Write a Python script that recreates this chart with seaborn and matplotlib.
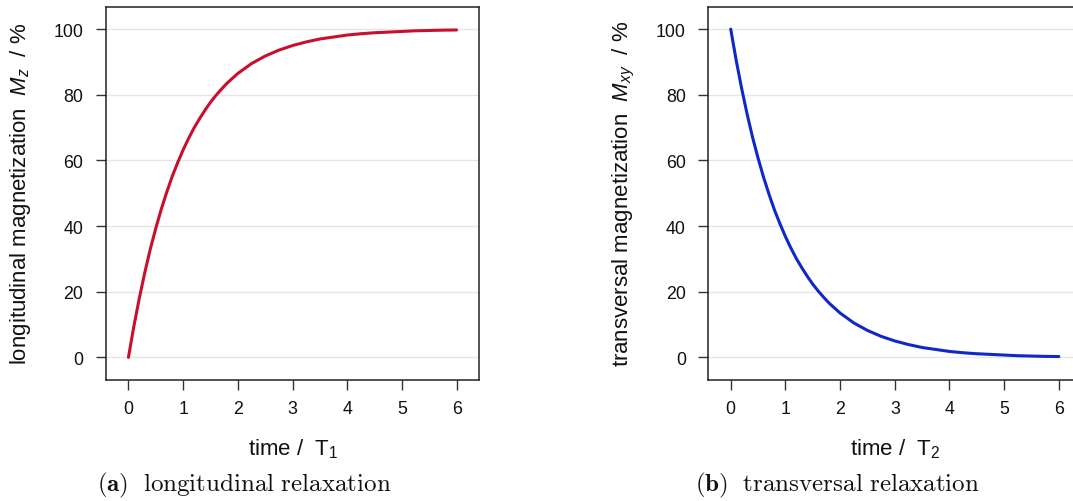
import numpy as np
import pandas as pd
import matplotlib
matplotlib.use("Agg")
import matplotlib.pyplot as plt
import seaborn as sns

# ---- data ----
time_pts = [0.0, 0.1, 0.2, 0.3, 0.4, 0.5, 0.6, 0.7, 0.8, 0.9, 1.0, 1.1, 1.2, 1.3,
            1.4, 1.5, 1.6, 1.7, 1.8, 1.9, 2.0, 2.25, 2.5, 2.75, 3.0, 3.25, 3.5,
            3.75, 4.0, 4.25, 4.5, 4.75, 5.0, 5.25, 5.5, 5.75, 6.0]
mz_values = [0.0, 9.5, 18.1, 25.9, 33.0, 39.3, 45.1, 50.3, 55.1, 59.3, 63.2, 66.7,
             69.9, 72.7, 75.3, 77.7, 79.8, 81.7, 83.5, 85.0, 86.5, 89.5, 91.8,
             93.6, 95.0, 96.1, 97.0, 97.6, 98.2, 98.6, 98.9, 99.1, 99.3, 99.5,
             99.6, 99.7, 99.75]
mxy_values = [100.0, 90.5, 81.9, 74.1, 67.0, 60.7, 54.9, 49.7, 44.9, 40.7, 36.8,
              33.3, 30.1, 27.3, 24.7, 22.3, 20.2, 18.3, 16.5, 15.0, 13.5, 10.5,
              8.2, 6.4, 5.0, 3.9, 3.0, 2.4, 1.8, 1.4, 1.1, 0.9, 0.7, 0.5, 0.4,
              0.3, 0.25]
x_ticks = [0, 1, 2, 3, 4, 5, 6]
y_ticks = [0, 20, 40, 60, 80, 100]

ylabels = [r"longitudinal magnetization  $M_z$  / %",
           r"transversal magnetization  $M_{xy}$  / %"]
xlabels = [r"time /  $\mathregular{T_1}$", r"time /  $\mathregular{T_2}$"]
captions = [r"$\mathbf{(a)}\ \ \mathrm{longitudinal\ relaxation}$",
            r"$\mathbf{(b)}\ \ \mathrm{transversal\ relaxation}$"]
colors = ["#C8102E", "#1028C8"]

sns.set_style("white")
plt.rcParams["font.family"] = ["Liberation Sans", "DejaVu Sans"]
plt.rcParams["mathtext.fontset"] = "custom"
plt.rcParams["mathtext.rm"] = "Liberation Sans"
plt.rcParams["mathtext.it"] = "Liberation Sans:italic"
plt.rcParams["mathtext.bf"] = "Liberation Sans:bold"

fig = plt.figure(figsize=(10.73, 5.02), dpi=100)
W, H = 1073, 502
ax_w = (479 - 106) / W
ax_h = (381 - 7.5) / H
ax_b = (H - 381) / H
lefts = [106 / W, 708.3 / W]

frames = [pd.DataFrame({"t": time_pts, "m": mz_values}),
          pd.DataFrame({"t": time_pts, "m": mxy_values})]
cap_x = [97, 695]
ylab_x = [-0.196, -0.19]

for i in range(2):
    ax = fig.add_axes([lefts[i], ax_b, ax_w, ax_h])
    ax.set_facecolor("white")
    for yv in y_ticks:
        ax.axhline(yv, color="#e6e6e6", lw=1.0, zorder=0)
    sns.lineplot(data=frames[i], x="t", y="m", ax=ax, color=colors[i],
                 linewidth=2.2, zorder=3)
    ax.set_xlim(-0.41, 6.41)
    ax.set_ylim(-6.9, 106.9)
    ax.set_xticks(x_ticks)
    ax.set_yticks(y_ticks)
    ax.tick_params(axis="both", which="major", direction="out", length=7.2,
                   width=1.0, color="#333333", labelsize=12.8,
                   labelcolor="#111111", bottom=True, left=True)
    ax.tick_params(axis="y", pad=9.0)
    ax.tick_params(axis="x", pad=7.0)
    for s in ax.spines.values():
        s.set_visible(True)
        s.set_color("#222222")
        s.set_linewidth(1.1)
    ax.set_xlabel(xlabels[i], fontsize=16, color="#111111")
    ax.set_ylabel(ylabels[i], fontsize=16, color="#111111")
    ax.xaxis.set_label_coords(0.5005, -0.150)
    ax.yaxis.set_label_coords(ylab_x[i], 0.5)
    fig.text(cap_x[i] / W, 1 - 491 / H, captions[i], fontsize=18,
             math_fontfamily="cm", ha="left", va="baseline", color="#111111")

fig.savefig("out.png", dpi=100)
